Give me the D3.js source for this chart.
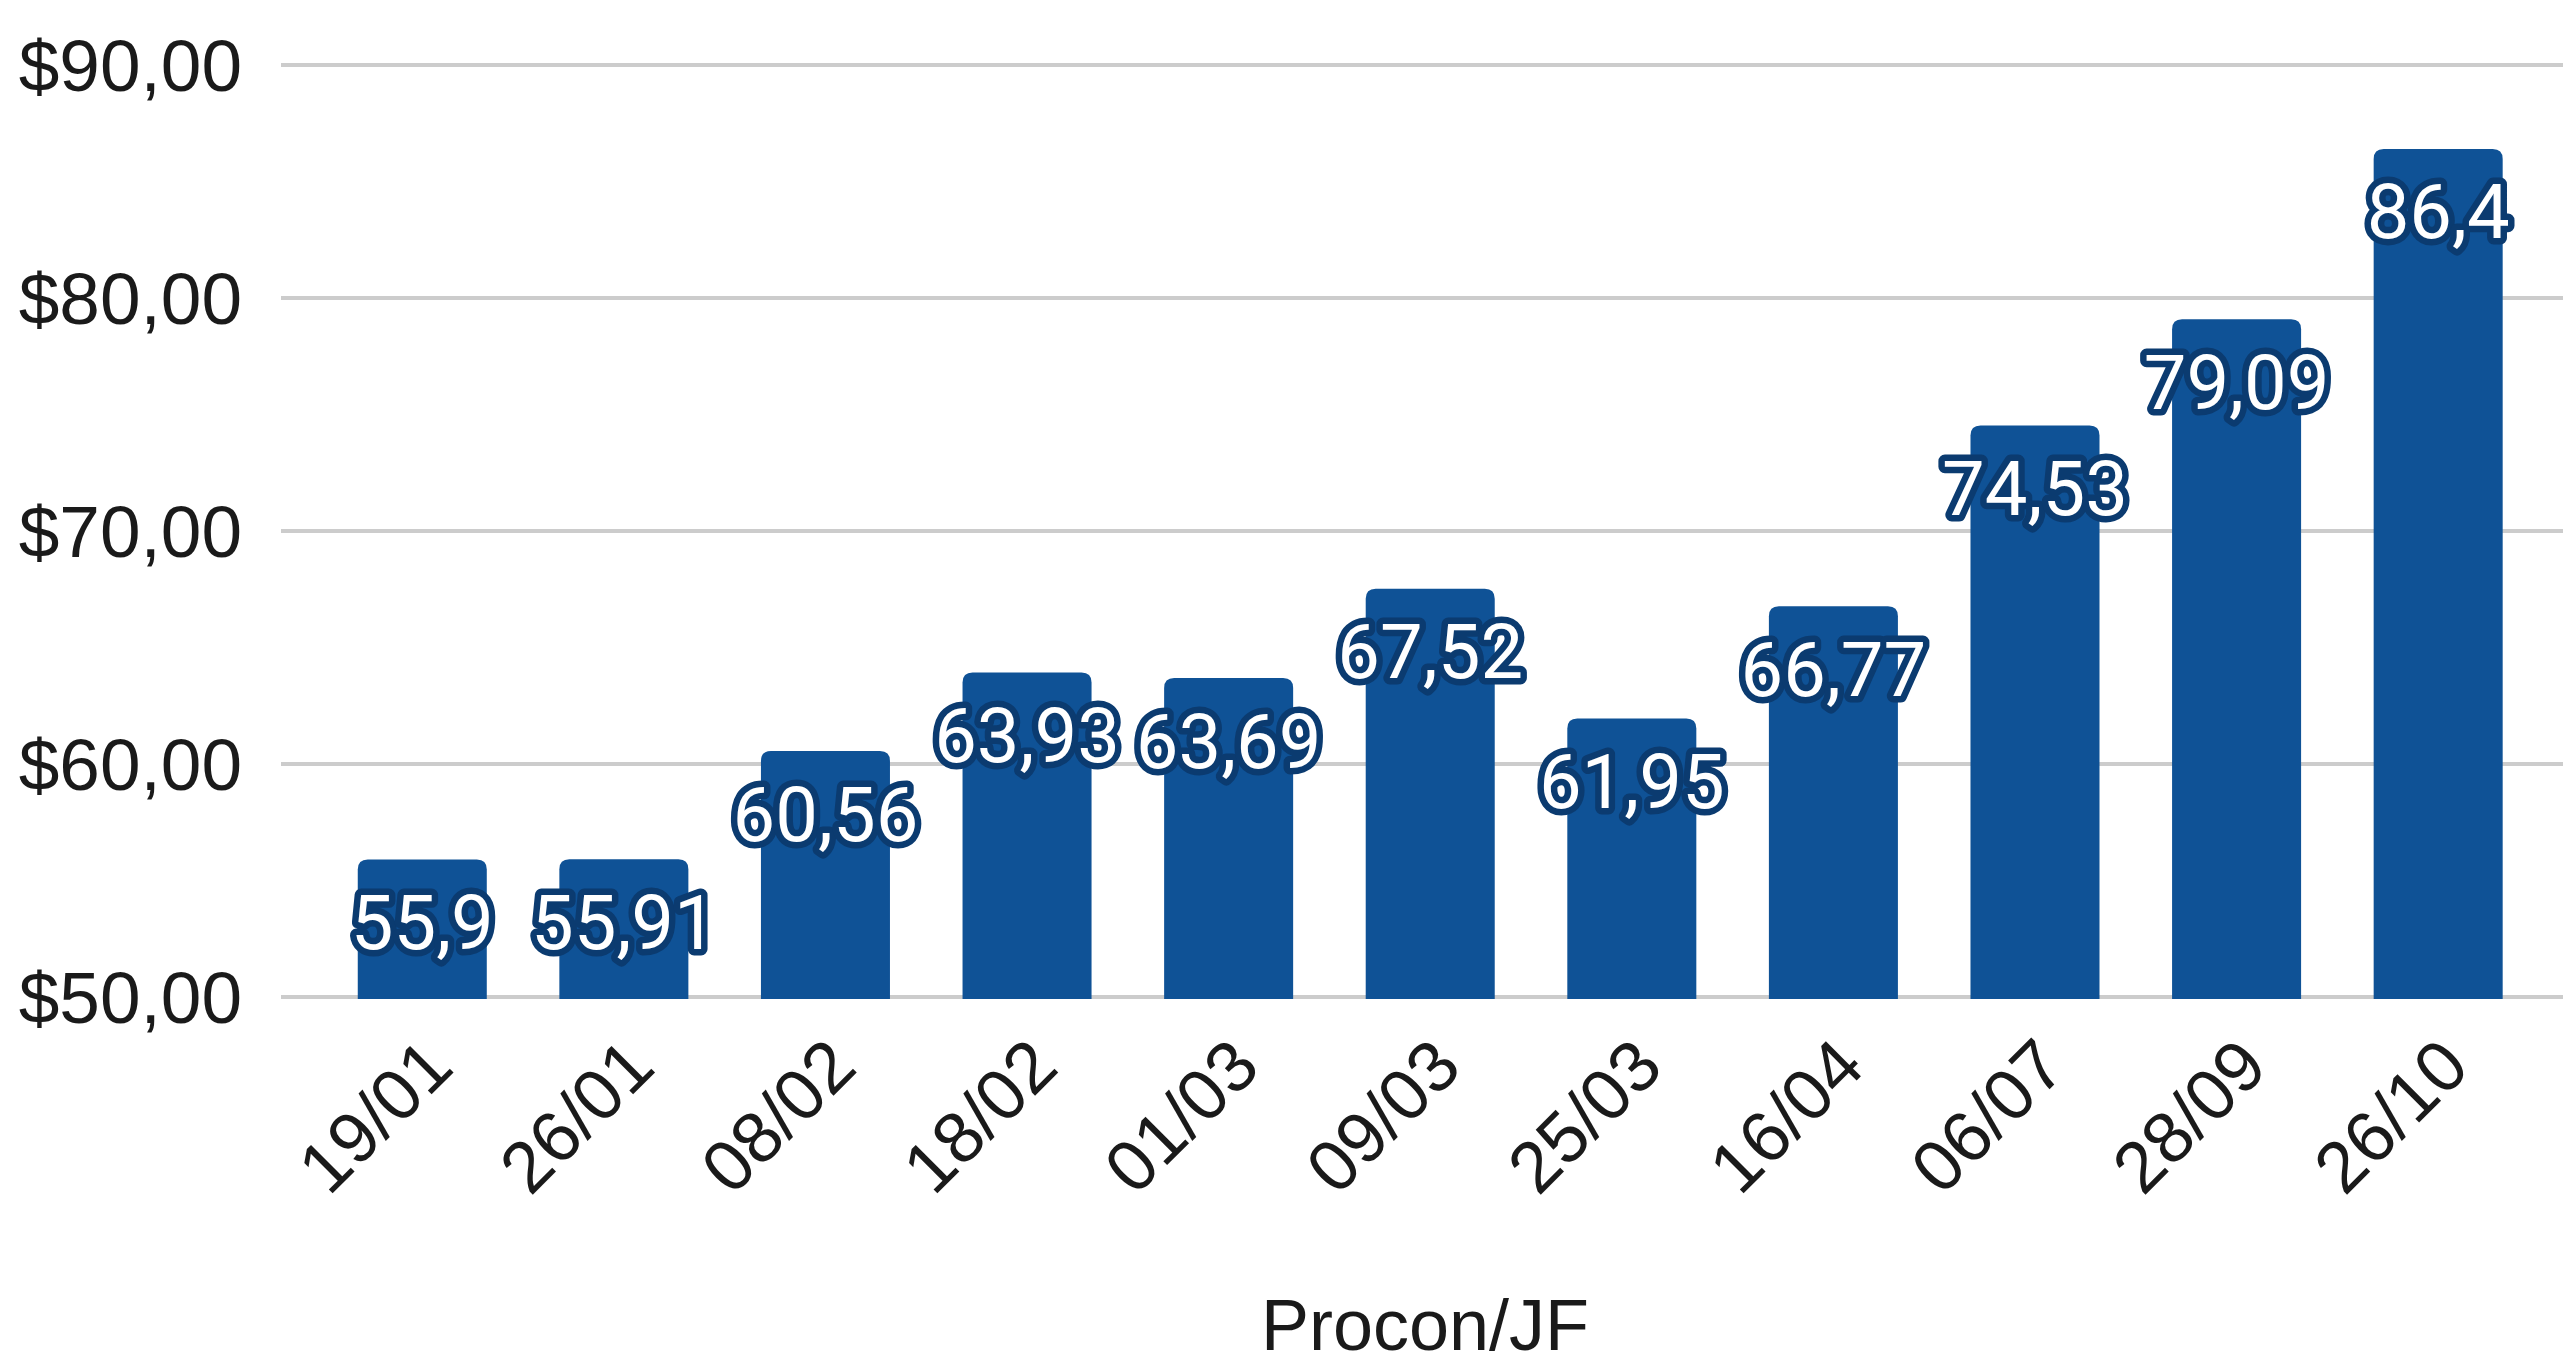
<!DOCTYPE html>
<html>
<head>
<meta charset="utf-8">
<script src="https://cdn.jsdelivr.net/npm/d3@7"></script>
<style>
  html, body { margin: 0; padding: 0; background: #fff; }
  svg { display: block; }
</style>
</head>
<body>
<div id="chart"></div>
<script>
// Dates and prices
const dates = ['19/01', '26/01', '08/02', '18/02', '01/03', '09/03', '25/03', '16/04', '06/07', '28/09', '26/10'];
const prices = [55.9, 55.91, 60.56, 63.93, 63.69, 67.52, 61.95, 66.77, 74.53, 79.09, 86.4];
const yTicks = [50, 60, 70, 80, 90];
const xTitle = 'Procon/JF';

const width = 2563;
const height = 1365;
const barColor = '#0f5296';

const svg = d3.select('#chart').append('svg')
    .attr('width', width)
    .attr('height', height);

const x = d3.scaleBand()
    .domain(dates)
    .range([281, 2563])
    .paddingInner(0.36)
    .paddingOuter(0.34)
    .align(0.56);

const y = d3.scaleLinear()
    .domain([50, 90])
    .range([997, 65]);

const fmtAxis = v => '$' + d3.format('.2f')(v).replace('.', ',');
const fmtLabel = v => String(v).replace('.', ',');

// Gridlines
svg.append('g')
    .selectAll('line')
    .data(yTicks)
    .join('line')
    .attr('x1', 281)
    .attr('x2', width)
    .attr('y1', d => y(d))
    .attr('y2', d => y(d))
    .attr('stroke', '#cccccc')
    .attr('stroke-width', 4);

// Y labels
svg.append('g')
    .selectAll('text')
    .data(yTicks)
    .join('text')
    .attr('x', 242)
    .attr('y', d => y(d))
    .attr('dy', '0.35em')
    .attr('text-anchor', 'end')
    .style('font-family', 'Arial, "Liberation Sans", sans-serif')
    .style('font-size', '73px')
    .style('fill', '#1a1a1a')
    .text(fmtAxis);

// Bars with rounded top corners
const r = 10;
svg.append('g')
    .selectAll('path')
    .data(prices)
    .join('path')
    .attr('fill', barColor)
    .attr('d', (d, i) => {
        const x0 = x(dates[i]);
        const x1 = x0 + x.bandwidth();
        const top = y(d);
        const bot = y(50) + 2;
        return `M${x0},${bot}V${top + r}Q${x0},${top} ${x0 + r},${top}H${x1 - r}Q${x1},${top} ${x1},${top + r}V${bot}Z`;
    });

// Data labels
svg.append('g')
    .selectAll('text')
    .data(prices)
    .join('text')
    .attr('x', (d, i) => x(dates[i]) + x.bandwidth() / 2)
    .attr('y', d => y(d) + 63)
    .attr('dy', '0.35em')
    .attr('text-anchor', 'middle')
    .style('font-family', 'Roboto, sans-serif')
    .style('font-size', '76px')
    .style('fill', '#fff')
    .style('stroke', '#0b3b70')
    .style('stroke-width', 13)
    .style('stroke-linejoin', 'round')
    .style('paint-order', 'stroke')
    .text(fmtLabel);

// X tick labels, rotated
svg.append('g')
    .selectAll('text')
    .data(dates)
    .join('text')
    .attr('transform', d => `translate(${x(d) + x.bandwidth() / 2 + 16},${1052}) rotate(-45)`)
    .attr('text-anchor', 'end')
    .attr('dy', '0.35em')
    .style('font-family', 'Arial, "Liberation Sans", sans-serif')
    .style('font-size', '72px')
    .style('fill', '#1a1a1a')
    .text(d => d);

// Axis title
svg.append('text')
    .attr('x', 1425)
    .attr('y', 1350)
    .attr('text-anchor', 'middle')
    .style('font-family', 'Arial, "Liberation Sans", sans-serif')
    .style('font-size', '72px')
    .style('fill', '#1a1a1a')
    .text(xTitle);
</script>
</body>
</html>
